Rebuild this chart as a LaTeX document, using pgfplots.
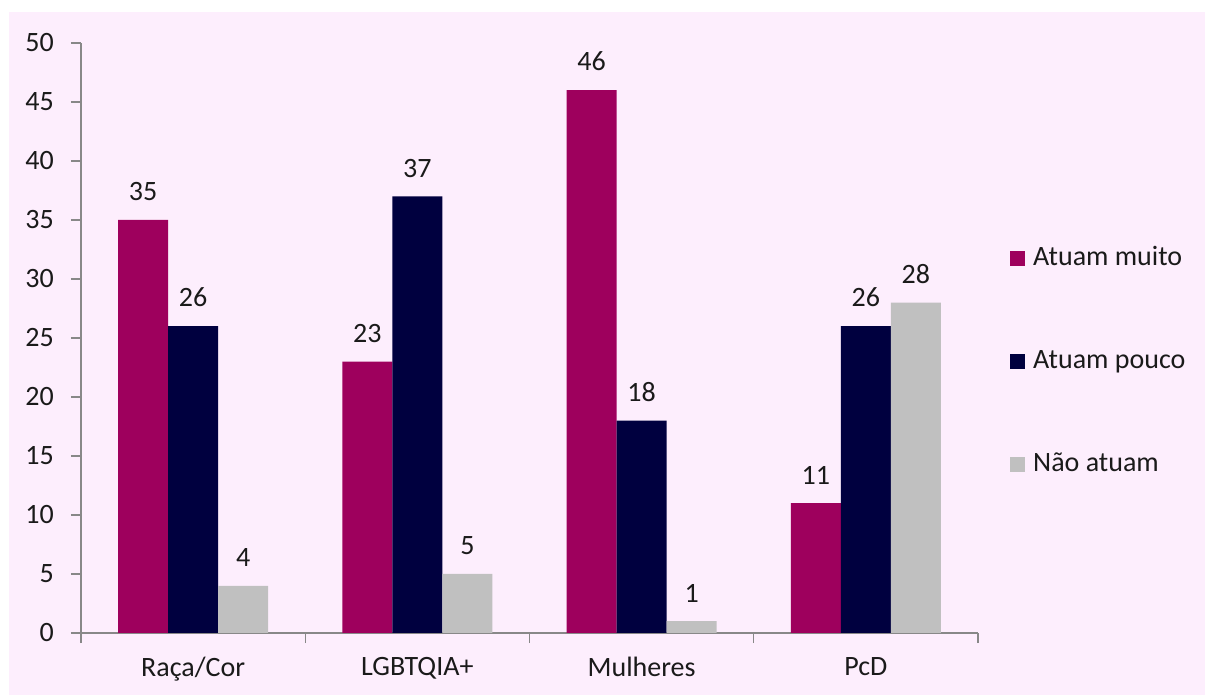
\documentclass[border=0pt]{standalone}
\usepackage{pgfplots}
\pgfplotsset{compat=1.18}
\usepackage{fontspec}
\setmainfont{Carlito}
\definecolor{bgpink}{HTML}{FDEEFD}
\definecolor{cmagenta}{HTML}{9E005D}
\definecolor{cnavy}{HTML}{00003F}
\definecolor{cgray}{HTML}{C0C0C0}
\definecolor{axgray}{HTML}{888888}
\definecolor{txt}{HTML}{1A1A1A}
\begin{document}
\begin{tikzpicture}
\useasboundingbox (0,0) rectangle (1205bp,695bp);
\fill[bgpink] (9bp,0) rectangle (1205bp,683bp);
\begin{axis}[
  at={(81bp,62bp)}, anchor=south west,
  scale only axis, width=897bp, height=590bp,
  font=\fontsize{28bp}{33bp}\selectfont\color{txt},
  /pgf/number format/assume math mode=true,
  ybar=0pt, bar width=50bp,
  xmin=-0.5, xmax=3.5, ymin=0, ymax=50,
  ytick={0,5,...,50},
  xtick={0,1,2,3},
  xticklabels={Raça/Cor,LGBTQIA+,Mulheres,PcD},
  extra x ticks={-0.5,0.5,1.5,2.5,3.5},
  extra x tick labels={},
  extra x tick style={xtick style={draw=axgray, line width=1.3bp}},
  xtick style={draw=none},
  ytick style={draw=axgray, line width=1.3bp},
  tick align=outside, major tick length=10bp,
  axis x line*=bottom, axis y line*=left,
  axis line style={draw=axgray, line width=1.3bp, -},
  yticklabel style={inner sep=0pt, xshift=-17bp},
  xticklabel style={inner sep=0pt, yshift=-14bp},
  nodes near coords,
  every node near coord/.append style={inner sep=0pt, yshift=19bp, color=txt},
  legend style={at={(1,0.46)}, anchor=west, xshift=29bp, draw=none, fill=none,
    nodes={inner sep=0pt, text height=19bp, text depth=6bp, anchor=west},
    row sep=78bp, column sep=8bp, font=\fontsize{28bp}{33bp}\selectfont\color{txt}},
  legend cell align=left,
  legend image code/.code={\fill[#1] (0bp,-7.5bp) rectangle (15bp,7.5bp);},
]
\addplot[fill=cmagenta, draw=none] coordinates {(0,35) (1,23) (2,46) (3,11)};
\addplot[fill=cnavy, draw=none] coordinates {(0,26) (1,37) (2,18) (3,26)};
\addplot[fill=cgray, draw=none] coordinates {(0,4) (1,5) (2,1) (3,28)};
\legend{Atuam muito, Atuam pouco, Não atuam}
\end{axis}
\end{tikzpicture}
\end{document}
